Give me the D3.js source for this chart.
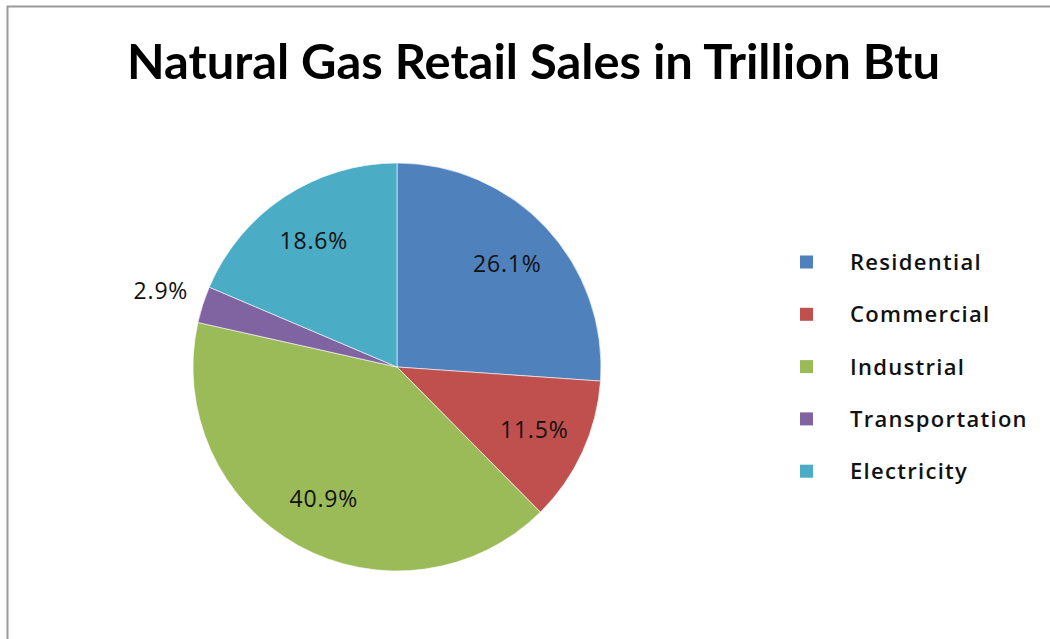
<!DOCTYPE html>
<html>
<head>
<meta charset="utf-8">
<script src="https://cdn.jsdelivr.net/npm/d3@7"></script>
<style>
  html, body { margin: 0; padding: 0; background: #fff; }
  svg { display: block; }
  text { font-family: "Open Sans", Lato, sans-serif; }
  text.title { font-family: Lato, "Open Sans", sans-serif; }
</style>
</head>
<body>
<svg id="chart" width="1050" height="639"></svg>
<script>
// Share of natural gas retail sales by sector (percent)
const categories = ["Residential", "Commercial", "Industrial", "Transportation", "Electricity"];
const shares = [26.1, 11.5, 40.9, 2.9, 18.6];
const colors = ["#4F81BD", "#C0504D", "#9BBB59", "#8064A2", "#4BACC6"];
const title = "Natural Gas Retail Sales in Trillion Btu";

const svg = d3.select("#chart");

// outer frame
svg.append("rect")
  .attr("x", 7.5).attr("y", 6.5)
  .attr("width", 1100).attr("height", 700)
  .attr("fill", "#fff")
  .attr("stroke", "#9a9a9a").attr("stroke-width", 2);

// title
svg.append("text")
  .attr("class", "title")
  .attr("x", 127).attr("y", 79)
  .attr("font-size", 48).attr("font-weight", 700)
  .attr("fill", "#000")
  .attr("textLength", 813).attr("lengthAdjust", "spacingAndGlyphs")
  .text(title);

const cx = 397, cy = 367, radius = 204;

const data = categories.map((c, i) => ({ name: c, value: shares[i], color: colors[i] }));

const pie = d3.pie().value(d => d.value).sort(null);
const arcs = pie(data);

const arc = d3.arc().innerRadius(0).outerRadius(radius);
const labelArc = d3.arc().innerRadius(radius * 0.74).outerRadius(radius * 0.74);
const outerLabelArc = d3.arc().innerRadius(radius + 44).outerRadius(radius + 44);

const g = svg.append("g").attr("transform", `translate(${cx},${cy})`);

g.selectAll("path")
  .data(arcs)
  .join("path")
  .attr("d", arc)
  .attr("fill", d => d.data.color)
  .attr("stroke", "#fff")
  .attr("stroke-width", 0.6);

// small slices get their label outside the pie
g.selectAll("text.lbl")
  .data(arcs)
  .join("text")
  .attr("class", "lbl")
  .attr("transform", d => {
    const p = d.data.value < 5 ? outerLabelArc.centroid(d) : labelArc.centroid(d);
    return `translate(${p[0]},${p[1]})`;
  })
  .attr("text-anchor", "middle")
  .attr("dy", "0.36em")
  .attr("font-size", 23)
  .attr("letter-spacing", 0.8)
  .attr("fill", "#111")
  .text(d => d.data.value.toFixed(1) + "%");

// legend
const legend = svg.append("g").attr("transform", "translate(800,262)");
const rows = legend.selectAll("g")
  .data(data)
  .join("g")
  .attr("transform", (d, i) => `translate(0,${i * 52.3})`);

rows.append("rect")
  .attr("x", 0).attr("y", -6.5)
  .attr("width", 13).attr("height", 13)
  .attr("fill", d => d.color);

rows.append("text")
  .attr("x", 50).attr("y", 0)
  .attr("dy", "0.36em")
  .attr("font-size", 22)
  .attr("font-weight", 600)
  .attr("letter-spacing", 1.3)
  .attr("fill", "#111")
  .text(d => d.name);
</script>
</body>
</html>
